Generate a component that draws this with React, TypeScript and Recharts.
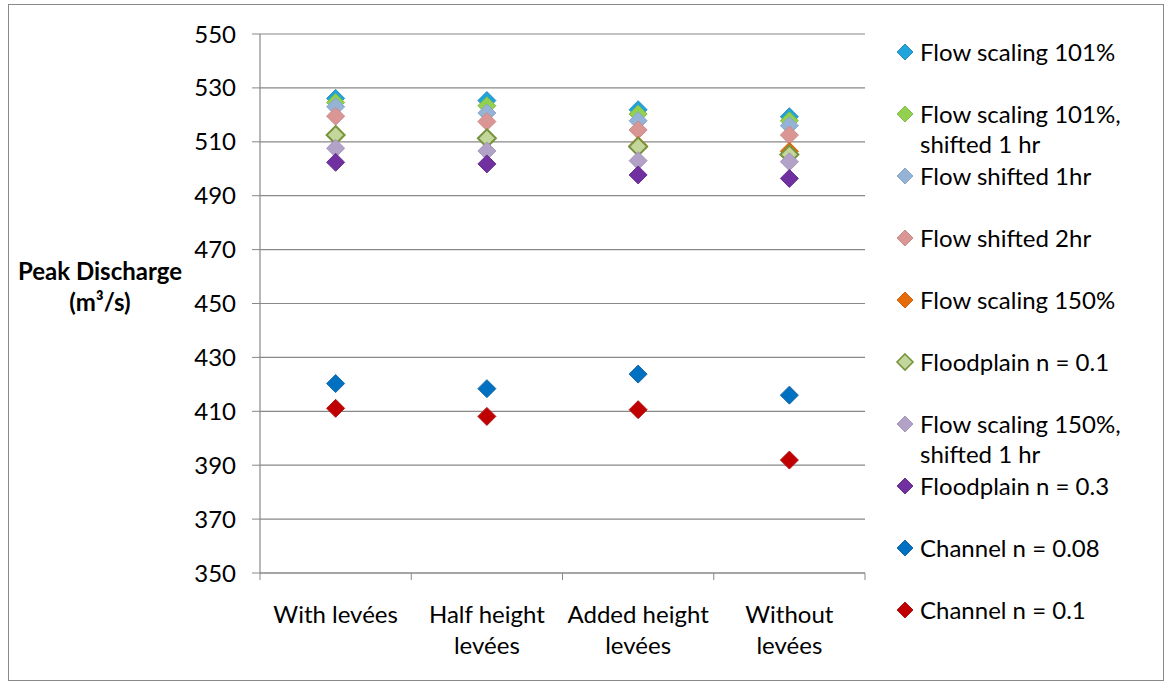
import React from 'react';
import { ScatterChart, Scatter, XAxis, YAxis, CartesianGrid } from 'recharts';

const categories = ['With levées', 'Half height levées', 'Added height levées', 'Without levées'];

const flowScaling101 = [526.1, 525.3, 521.9, 519.3];
const flowScaling101Shifted = [524.6, 523.4, 520.3, 517.8];
const flowShifted1hr = [523.0, 520.7, 517.8, 516.0];
const flowShifted2hr = [519.5, 517.5, 514.4, 512.5];
const flowScaling150 = [512.5, 511.3, 508.6, 506.5];
const floodplain01 = [512.5, 511.3, 508.2, 505.3];
const flowScaling150Shifted = [507.6, 506.6, 503.0, 502.6];
const floodplain03 = [502.4, 501.8, 497.7, 496.4];
const channel008 = [420.3, 418.4, 423.8, 416.0];
const channel01 = [411.1, 408.1, 410.6, 391.9];

const yTicks = [350, 370, 390, 410, 430, 450, 470, 490, 510, 530, 550];

const seriesNames = [
  'Flow scaling 101%',
  'Flow scaling 101%, shifted 1 hr',
  'Flow shifted 1hr',
  'Flow shifted 2hr',
  'Flow scaling 150%',
  'Floodplain n = 0.1',
  'Flow scaling 150%, shifted 1 hr',
  'Floodplain n = 0.3',
  'Channel n = 0.08',
  'Channel n = 0.1',
];
const seriesValues = [
  flowScaling101,
  flowScaling101Shifted,
  flowShifted1hr,
  flowShifted2hr,
  flowScaling150,
  floodplain01,
  flowScaling150Shifted,
  floodplain03,
  channel008,
  channel01,
];

const seriesStyles = [
  { fill: '#1fa5dc', stroke: '#2b8cbe', sw: 1 },
  { fill: '#92d050', stroke: '#86b84a', sw: 1 },
  { fill: '#95b3d7', stroke: '#8aa6c8', sw: 1 },
  { fill: '#da9694', stroke: '#c98a88', sw: 1 },
  { fill: '#e46c0a', stroke: '#d06410', sw: 1 },
  { fill: '#c3d69b', stroke: '#77933c', sw: 2 },
  { fill: '#b3a2c7', stroke: '#a595b8', sw: 1 },
  { fill: '#7030a0', stroke: '#66308f', sw: 1 },
  { fill: '#0070c0', stroke: '#1767a8', sw: 1 },
  { fill: '#c00000', stroke: '#b01818', sw: 1 },
];

const FONT = 'Lato, "Open Sans", sans-serif';
const FS = 24;
const GRID = '#888888';

const splitLabel = (s: string): string[] => {
  if (s.length <= 11) return [s];
  const i = s.lastIndexOf(' ');
  return [s.slice(0, i), s.slice(i + 1)];
};

const Diamond = (props: any) => {
  const { cx, cy, fill, stroke, strokeWidth, r } = props;
  if (cx == null || cy == null) return null;
  return (
    <path
      d={`M${cx},${cy - r} L${cx + r},${cy} L${cx},${cy + r} L${cx - r},${cy} Z`}
      fill={fill}
      stroke={stroke}
      strokeWidth={strokeWidth}
    />
  );
};

const XTick = (props: any) => {
  const { x, y, payload } = props;
  const v = payload.value as number;
  if (Number.isInteger(v)) {
    return <line x1={x} y1={y - 7} x2={x} y2={y} stroke={GRID} strokeWidth={1} />;
  }
  const idx = Math.floor(v);
  const lines = splitLabel(categories[idx] || '');
  return (
    <text x={x} y={y} textAnchor="middle" fontFamily={FONT} fontSize={FS} fill="#000">
      {lines.map((l, i) => (
        <tspan key={i} x={x} y={y + 43 + i * 31}>
          {l}
        </tspan>
      ))}
    </text>
  );
};

const LegendItem = ({ idx }: { idx: number }) => {
  const st = seriesStyles[idx];
  const lines = splitLabel2(seriesNames[idx]);
  return (
    <div
      style={{
        position: 'absolute',
        left: 895,
        top: 52 + idx * 62 - 15,
        lineHeight: '30px',
        fontFamily: FONT,
        fontSize: FS,
        color: '#000',
        whiteSpace: 'nowrap',
      }}
    >
      <svg width={20} height={20} style={{ position: 'absolute', left: 0, top: 5 }}>
        <path
          d="M10,2 L18,10 L10,18 L2,10 Z"
          fill={st.fill}
          stroke={st.stroke}
          strokeWidth={st.sw === 2 ? 1.6 : 1}
        />
      </svg>
      <div style={{ marginLeft: 25 }}>
        {lines.map((l, i) => (
          <div key={i}>{l}</div>
        ))}
      </div>
    </div>
  );
};

const splitLabel2 = (s: string): string[] => {
  const i = s.indexOf(', ');
  if (i < 0) return [s];
  return [s.slice(0, i + 1), s.slice(i + 2)];
};

export default function App() {
  return (
    <div style={{ position: 'absolute', left: 0, top: 0, width: 1168, height: 684, background: '#fff' }}>
      <div
        style={{
          position: 'absolute',
          left: 8,
          top: 4,
          width: 1156,
          height: 677,
          border: '1px solid #898989',
          boxSizing: 'border-box',
        }}
      />
      <div style={{ position: 'absolute', left: 0, top: 0 }}>
        <ScatterChart width={1168} height={684} margin={{ top: 34, right: 303, bottom: 31, left: 200 }}>
          <CartesianGrid vertical={false} stroke={GRID} strokeWidth={1.2} />
          <XAxis
            type="number"
            dataKey="x"
            domain={[0, 4]}
            ticks={[0, 0.5, 1, 1.5, 2, 2.5, 3, 3.5, 4]}
            interval={0}
            tickLine={false}
            tickSize={7}
            tickMargin={0}
            tick={<XTick />}
            height={80}
            axisLine={{ stroke: GRID, strokeWidth: 1.2 }}
            allowDataOverflow
          />
          <YAxis
            type="number"
            dataKey="y"
            domain={[350, 550]}
            ticks={yTicks}
            interval={0}
            width={60}
            tickSize={8}
            tickMargin={16}
            axisLine={{ stroke: GRID, strokeWidth: 1.2 }}
            tickLine={{ stroke: GRID }}
            tick={{ fill: '#000', fontSize: FS, fontFamily: FONT }}
          />
          {seriesValues.map((vals, si) => {
            const st = seriesStyles[si];
            const data = vals.map((v, i) => ({ x: i + 0.5, y: v, category: categories[i] }));
            return (
              <Scatter
                key={seriesNames[si]}
                name={seriesNames[si]}
                data={data}
                isAnimationActive={false}
                shape={(p: any) => <Diamond {...p} r={9} fill={st.fill} stroke={st.stroke} strokeWidth={st.sw} />}
              />
            );
          })}
        </ScatterChart>
      </div>
      <div
        style={{
          position: 'absolute',
          left: 0,
          width: 200,
          top: 255,
          textAlign: 'center',
          fontFamily: FONT,
          fontSize: FS,
          fontWeight: 'bold',
          lineHeight: '31px',
          color: '#000',
        }}
      >
        <div>Peak Discharge</div>
        <div>(m³/s)</div>
      </div>
      {seriesNames.map((_, i) => (
        <LegendItem key={i} idx={i} />
      ))}
    </div>
  );
}
